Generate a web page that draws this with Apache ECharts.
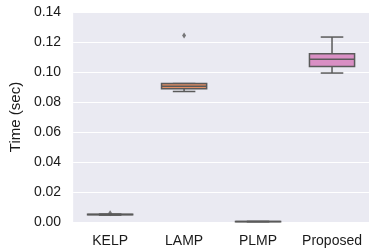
<!DOCTYPE html>
<html><head><meta charset="utf-8">
<script src="https://cdn.jsdelivr.net/npm/echarts@6/dist/echarts.min.js"></script>
<style>html,body{margin:0;padding:0;background:#fff}#c{width:374px;height:252px}</style>
</head><body><div id="c"></div>
<script>
const categories = ['KELP', 'LAMP', 'PLMP', 'Proposed'];
// [lowerWhisker, Q1, median, Q3, upperWhisker]
const boxStats = [
  [0.0046, 0.0048, 0.0050, 0.0051, 0.0053],
  [0.0870, 0.0888, 0.0905, 0.0923, 0.0923],
  [0.0002, 0.0002, 0.0003, 0.0003, 0.0004],
  [0.0993, 0.1037, 0.1085, 0.1121, 0.1233]
];
const outliers = [[0, 0.0058], [1, 0.1243]];
const boxColors = ['#8c8c8c', '#e28e65', '#8a8a8a', '#d98fc4'];
const yTicks = [0, 0.02, 0.04, 0.06, 0.08, 0.10, 0.12, 0.14];

const chart = echarts.init(document.getElementById('c'));
const edge = '#5a5a5a';
const font = 'Liberation Sans, Arial, sans-serif';
chart.setOption({
  animation: false,
  backgroundColor: '#fff',
  grid: {left: 61, right: 5, top: 12, bottom: 30, show: true, backgroundColor: '#EAEAF2', borderWidth: 0},
  xAxis: {
    type: 'category', data: categories,
    axisLine: {show: false}, axisTick: {show: false},
    axisLabel: {color: '#1a1a1a', fontSize: 14, fontFamily: font, margin: 12, interval: 0, hideOverlap: false},
    splitLine: {show: false}
  },
  yAxis: {
    type: 'value', min: 0, max: 0.14, interval: 0.02,
    name: 'Time (sec)', nameLocation: 'middle', nameGap: 50,
    nameTextStyle: {color: '#1a1a1a', fontSize: 15, fontFamily: font},
    axisLine: {show: false}, axisTick: {show: false},
    axisLabel: {color: '#1a1a1a', fontSize: 14, fontFamily: font, margin: 12,
      formatter: v => v.toFixed(2)},
    splitLine: {lineStyle: {color: '#ffffff', width: 1}}
  },
  series: [
    {
      type: 'custom',
      data: boxStats.map((s, i) => [i].concat(s)),
      renderItem: function (params, api) {
        const i = api.value(0);
        const lo = api.coord([i, api.value(1)]);
        const q1 = api.coord([i, api.value(2)]);
        const md = api.coord([i, api.value(3)]);
        const q3 = api.coord([i, api.value(4)]);
        const hi = api.coord([i, api.value(5)]);
        const bw = api.size([1, 0])[0] * 0.61;
        const cx = lo[0];
        const cw = bw / 2;
        const ls = {stroke: edge, lineWidth: 1.5};
        return {
          type: 'group',
          children: [
            {type: 'line', shape: {x1: cx, y1: q3[1], x2: cx, y2: hi[1]}, style: ls},
            {type: 'line', shape: {x1: cx, y1: q1[1], x2: cx, y2: lo[1]}, style: ls},
            {type: 'line', shape: {x1: cx - cw / 2, y1: hi[1], x2: cx + cw / 2, y2: hi[1]}, style: ls},
            {type: 'line', shape: {x1: cx - cw / 2, y1: lo[1], x2: cx + cw / 2, y2: lo[1]}, style: ls},
            {type: 'rect', shape: {x: cx - bw / 2, y: q3[1], width: bw, height: q1[1] - q3[1]},
              style: {fill: boxColors[i], stroke: edge, lineWidth: 1.5}},
            {type: 'line', shape: {x1: cx - bw / 2, y1: md[1], x2: cx + bw / 2, y2: md[1]}, style: ls}
          ]
        };
      },
      encode: {x: 0, y: [1, 2, 3, 4, 5]},
      z: 3
    },
    {
      type: 'scatter', data: outliers, symbol: 'diamond', symbolSize: [4, 6],
      itemStyle: {color: edge}, z: 4
    }
  ]
});
</script></body></html>
